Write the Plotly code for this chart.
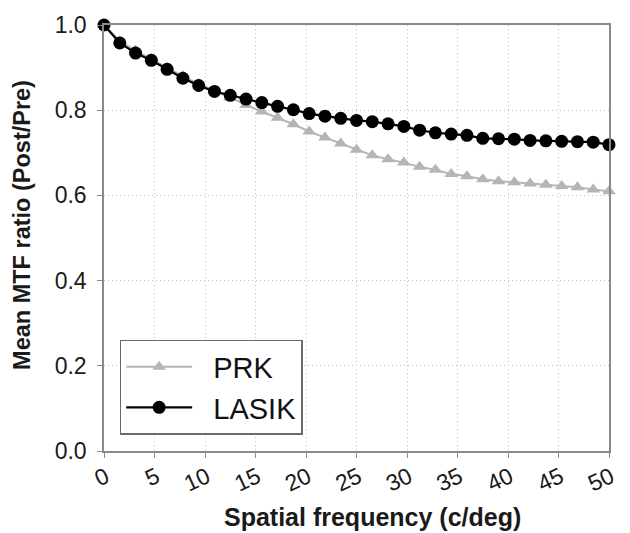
import plotly.graph_objects as go

freq_step = 50 / 32
freq = [round(i * freq_step, 4) for i in range(33)]

lasik = [1.000, 0.958, 0.934, 0.917, 0.896, 0.875, 0.858, 0.844, 0.835, 0.826,
         0.818, 0.809, 0.801, 0.792, 0.786, 0.781, 0.776, 0.773, 0.768, 0.762,
         0.753, 0.747, 0.744, 0.741, 0.734, 0.733, 0.732, 0.729, 0.728, 0.727,
         0.726, 0.725, 0.719]

prk = [1.000, 0.962, 0.940, 0.920, 0.899, 0.880, 0.862, 0.846, 0.830, 0.812,
       0.797, 0.782, 0.767, 0.750, 0.736, 0.722, 0.707, 0.694, 0.685, 0.677,
       0.667, 0.660, 0.650, 0.645, 0.638, 0.633, 0.631, 0.628, 0.625, 0.622,
       0.619, 0.614, 0.610]

x_ticks = [0, 5, 10, 15, 20, 25, 30, 35, 40, 45, 50]
y_ticks = [0.0, 0.2, 0.4, 0.6, 0.8, 1.0]

x_title = "Spatial frequency (c/deg)"
y_title = "Mean MTF ratio (Post/Pre)"

font_family = "Liberation Sans, Arial, sans-serif"
pad = "\u00a0\u00a0"

fig = go.Figure()
fig.add_trace(go.Scatter(
    x=freq, y=prk, name=pad + "PRK", mode="lines+markers",
    line=dict(color="#b5b5b5", width=2),
    marker=dict(symbol="triangle-up", size=12, color="#b5b5b5"),
    cliponaxis=False,
))
fig.add_trace(go.Scatter(
    x=freq, y=lasik, name=pad + "LASIK", mode="lines+markers",
    line=dict(color="#000000", width=2.2),
    marker=dict(symbol="circle", size=13, color="#000000"),
    cliponaxis=False,
))

axis_common = dict(
    showline=True, mirror=True, linecolor="#8a8a8a", linewidth=1.5,
    ticks="outside", ticklen=5, tickcolor="#8a8a8a", tickwidth=1,
    showgrid=True, gridcolor="#c0c0c0", griddash="1px,3px", gridwidth=1,
    zeroline=False,
)

fig.update_xaxes(
    range=[0, 50], tickvals=x_ticks, ticktext=[str(v) for v in x_ticks],
    tickangle=-25, ticklabelstandoff=-3, ticklabelshift=2,
    tickfont=dict(family=font_family, size=23, color="#1a1a1a"),
    **axis_common,
)
fig.update_yaxes(
    range=[0, 1], tickvals=y_ticks, ticktext=[f"{v:.1f}" for v in y_ticks],
    ticklabelstandoff=6,
    tickfont=dict(family=font_family, size=23, color="#1a1a1a"),
    **axis_common,
)

fig.add_annotation(
    text="<b>" + x_title + "</b>", xref="paper", yref="paper",
    x=0.531, y=-0.156, xanchor="center", yanchor="middle", showarrow=False,
    font=dict(family=font_family, size=25, color="#1a1a1a"),
)
fig.add_annotation(
    text="<b>" + y_title + "</b>", xref="paper", yref="paper",
    x=-0.161, y=0.53, xanchor="center", yanchor="middle", showarrow=False,
    textangle=-90,
    font=dict(family=font_family, size=23.5, color="#1a1a1a"),
)

fig.update_layout(
    width=630, height=533,
    margin=dict(l=104, r=16, t=15, b=82),
    paper_bgcolor="white", plot_bgcolor="white",
    font=dict(family=font_family, color="#1a1a1a"),
    legend=dict(
        x=0.031, y=0.261, xanchor="left", yanchor="top",
        bgcolor="white", bordercolor="#6a6a6a", borderwidth=1.5,
        font=dict(family=font_family, size=29, color="#111111"),
        itemwidth=66,
        tracegroupgap=0,
    ),
)

fig.write_html("out.html")
